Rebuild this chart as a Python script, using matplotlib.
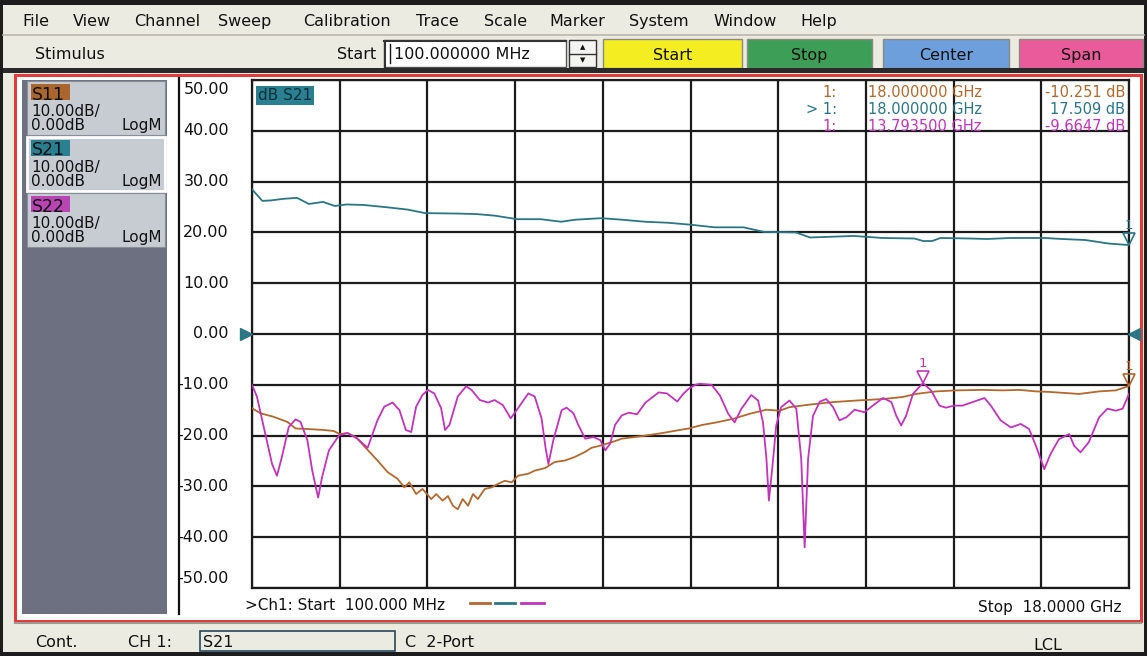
import matplotlib
matplotlib.use("Agg")
import matplotlib.pyplot as plt
import matplotlib.transforms as mtransforms
from matplotlib.patches import Rectangle
from matplotlib.lines import Line2D

plt.rcParams['font.family'] = ['DejaVu Sans']

W, H = 1147, 656

# ---- sweep / scale settings -------------------------------------------
f_start, f_stop = 0.1, 18.0          # GHz
db_top, db_bottom = 50.0, -50.0      # dB, 10 dB/div
n_div = 10

# ---- measured traces (frequency in GHz, magnitude in dB) ----------------
s11_freq = [0.10, 0.27, 0.54, 0.82, 0.99, 1.23, 1.57, 1.77, 1.89, 2.05, 2.22,
            2.42, 2.66, 2.87, 3.07, 3.21, 3.31, 3.45, 3.58, 3.76, 3.86, 3.99,
            4.10, 4.20, 4.30, 4.40, 4.51, 4.61, 4.71, 4.85, 4.99, 5.12, 5.26,
            5.40, 5.53, 5.74, 5.87, 6.08, 6.28, 6.49, 6.69, 6.90, 7.03, 7.24,
            7.44, 7.65, 8.06, 8.47, 9.01, 9.29, 9.58, 9.92, 10.26, 10.60,
            10.87, 11.07, 11.48, 11.96, 12.43, 12.98, 13.38, 13.65, 14.06,
            14.47, 15.01, 15.42, 15.76, 16.10, 16.37, 16.98, 17.39, 17.73, 18.0]
s11_db = [-14.6, -15.6, -16.3, -17.3, -18.6, -18.7, -18.9, -19.1, -19.7, -19.5,
          -20.3, -22.4, -24.9, -27.2, -28.5, -30.2, -29.2, -31.5, -30.5, -32.5,
          -31.5, -32.8, -31.9, -33.8, -34.5, -32.5, -33.8, -31.5, -32.5, -30.5,
          -30.2, -29.5, -28.9, -29.2, -27.9, -27.5, -26.9, -26.4, -25.2, -24.9,
          -24.2, -23.2, -22.4, -21.9, -21.3, -20.6, -20.1, -19.5, -18.6, -17.9,
          -17.4, -16.7, -15.7, -14.9, -15.1, -14.4, -13.9, -13.4, -13.1, -12.8,
          -12.4, -11.8, -11.3, -11.1, -11.0, -11.1, -11.0, -11.3, -11.4, -11.8,
          -11.3, -11.1, -10.251]

s21_freq = [0.10, 0.31, 0.49, 0.73, 1.02, 1.26, 1.55, 1.79, 2.03, 2.38, 2.80,
            3.27, 3.63, 4.34, 4.69, 5.05, 5.52, 5.99, 6.41, 6.70, 7.23, 7.65,
            8.12, 8.59, 9.07, 9.54, 10.13, 10.55, 11.20, 11.49, 11.79, 12.38,
            12.68, 12.97, 13.62, 13.80, 13.98, 14.15, 14.75, 15.10, 15.58,
            16.28, 16.64, 17.11, 17.59, 18.0]
s21_db = [28.5, 26.2, 26.3, 26.6, 26.8, 25.6, 26.0, 25.2, 25.5, 25.4, 25.0,
          24.5, 23.8, 23.7, 23.6, 23.3, 22.6, 22.6, 22.1, 22.5, 22.8, 22.5,
          22.1, 21.9, 21.5, 21.0, 21.0, 20.1, 20.0, 19.0, 19.1, 19.3, 19.1,
          18.9, 18.8, 18.3, 18.3, 18.9, 18.8, 18.7, 18.9, 18.9, 18.7, 18.5,
          17.8, 17.509]

s22_freq = [0.10, 0.20, 0.37, 0.51, 0.61, 0.71, 0.85, 0.99, 1.09, 1.23, 1.33,
            1.45, 1.53, 1.67, 1.88, 2.05, 2.25, 2.46, 2.66, 2.80, 2.97, 3.11,
            3.24, 3.35, 3.45, 3.58, 3.69, 3.82, 3.96, 4.04, 4.13, 4.30, 4.47,
            4.58, 4.75, 4.92, 5.05, 5.22, 5.38, 5.53, 5.74, 5.87, 6.01, 6.09,
            6.15, 6.25, 6.42, 6.52, 6.66, 6.76, 6.90, 7.07, 7.21, 7.31, 7.41,
            7.51, 7.65, 7.79, 7.96, 8.13, 8.40, 8.57, 8.78, 8.90, 9.01, 9.15,
            9.24, 9.48, 9.65, 9.82, 9.95, 10.09, 10.29, 10.43, 10.53, 10.60,
            10.65, 10.72, 10.80, 10.90, 11.07, 11.21, 11.31, 11.38, 11.45,
            11.55, 11.69, 11.82, 11.96, 12.09, 12.23, 12.40, 12.60, 12.81,
            12.98, 13.15, 13.25, 13.35, 13.45, 13.59, 13.7935, 13.96, 14.13,
            14.26, 14.43, 14.60, 14.81, 15.05, 15.18, 15.38, 15.59, 15.79,
            15.96, 16.10, 16.27, 16.40, 16.57, 16.78, 16.88, 17.01, 17.18,
            17.39, 17.56, 17.73, 17.87, 18.0]
s22_db = [-10.0, -12.3, -19.6, -25.6, -27.9, -24.2, -18.3, -16.8, -17.3, -20.9,
          -26.9, -32.2, -28.2, -22.9, -19.9, -19.5, -20.6, -22.4, -17.0, -14.3,
          -13.5, -15.0, -18.9, -19.3, -14.3, -12.0, -11.0, -11.7, -14.6, -18.9,
          -17.9, -12.3, -10.3, -11.0, -13.0, -13.5, -13.0, -14.0, -16.6, -14.6,
          -11.7, -12.3, -16.6, -22.3, -25.6, -20.9, -15.0, -14.5, -15.6, -17.9,
          -20.6, -20.3, -20.9, -22.9, -21.6, -17.9, -16.0, -15.5, -15.8, -13.5,
          -11.5, -11.7, -13.3, -11.8, -10.8, -10.0, -9.8, -10.0, -12.1, -15.7,
          -17.4, -14.7, -12.0, -13.1, -17.4, -24.6, -32.8, -26.3, -18.0, -14.4,
          -13.1, -14.7, -24.6, -42.0, -24.6, -16.1, -13.3, -12.8, -14.4, -17.0,
          -16.4, -14.9, -15.4, -13.8, -12.6, -13.4, -16.1, -18.0, -16.1, -11.8,
          -9.6647, -11.1, -14.1, -14.5, -14.1, -14.1, -13.4, -12.6, -14.1,
          -17.0, -18.4, -17.7, -18.7, -22.0, -26.6, -23.6, -20.7, -19.7, -22.0,
          -23.3, -21.3, -16.4, -14.7, -15.1, -14.7, -11.8]

# active markers (one per trace)
marker_freq = [18.0, 18.0, 13.7935]
marker_db = [-10.251, 17.509, -9.6647]
marker_prefix = ["1:", "> 1:", "1:"]
marker_freq_text = ["18.000000", "18.000000", "13.793500"]
marker_val_text = ["-10.251 dB", "17.509 dB", "-9.6647 dB"]

trace_names = ["S11", "S21", "S22"]
trace_colors = ["#b4682c", "#2a7686", "#c233bd"]
tag_colors = ["#a9662f", "#2a8090", "#b944b4"]

menu_items = ["File", "View", "Channel", "Sweep", "Calibration", "Trace",
              "Scale", "Marker", "System", "Window", "Help"]
menu_x = [22, 73, 134, 218, 303, 416, 484, 549, 629, 713, 800]

buttons = [("Start", "#f3ed22", 603, 742), ("Stop", "#3d9f57", 747, 872),
           ("Center", "#6c9fdc", 883, 1009), ("Span", "#ea5b9b", 1019, 1143)]

# ---- helpers working in screen pixels (origin top-left) ----------------
fig = plt.figure(figsize=(W / 100, H / 100), dpi=100, facecolor="#ecebe1")


def box(x0, y0, x1, y1, fc="none", ec="none", lw=0.0, z=0.5):
    fig.add_artist(Rectangle((x0 / W, 1 - y1 / H), (x1 - x0) / W, (y1 - y0) / H,
                             transform=fig.transFigure, facecolor=fc,
                             edgecolor=ec, linewidth=lw, zorder=z))


def hline(x0, x1, y, color, lw=1.0, z=0.8):
    fig.add_artist(Line2D([x0 / W, x1 / W], [1 - y / H, 1 - y / H],
                          transform=fig.transFigure, color=color, lw=lw, zorder=z))


def vline(x, y0, y1, color, lw=1.0, z=0.8):
    fig.add_artist(Line2D([x / W, x / W], [1 - y0 / H, 1 - y1 / H],
                          transform=fig.transFigure, color=color, lw=lw, zorder=z))


def txt(x, y, s, size=11.5, ha="left", va="center_baseline", color="#111111",
        z=4, **kw):
    return fig.text(x / W, 1 - y / H, s, fontsize=size, ha=ha, va=va,
                    color=color, zorder=z, **kw)


# ---- window frame, menu and stimulus bar --------------------------------
box(0, 0, W, 5, fc="#1c1c1c")
box(0, 0, 3, H, fc="#1c1c1c")
box(W - 3, 0, W, H, fc="#1c1c1c")
box(0, H - 4, W, H, fc="#1c1c1c")
hline(3, W - 3, 35, "#b9b7ab", lw=1.2)
for name, x in zip(menu_items, menu_x):
    txt(x, 20, name)

txt(35, 53, "Stimulus")
txt(337, 53, "Start")
box(384, 40, 566, 67, fc="white", ec="#555555", lw=1.0)
hline(384, 566, 41, "#333333", lw=1.5)
vline(385, 41, 67, "#333333", lw=1.5)
vline(390, 44, 63, "#111111", lw=1.0)
txt(394, 53, "100.000000 MHz", size=11.5)
box(569, 40, 596, 67, fc="#f4f4f0", ec="#333333", lw=1.0)
hline(569, 596, 53.5, "#333333", lw=1.0)
txt(582.5, 47, "▲", size=5, ha="center", va="center")
txt(582.5, 60, "▼", size=5, ha="center", va="center")
for label, col, x0, x1 in buttons:
    box(x0, 39, x1, 68, fc=col, ec="#8a8a80", lw=1.0)
    txt((x0 + x1) / 2, 54, label, ha="center")

box(3, 68, W - 3, 73, fc="#2a2a2a")

# ---- main display area --------------------------------------------------
box(15, 75, 1141, 621, fc="white", ec="#e23b3b", lw=2.2, z=0.4)
hline(15, 1141, 623, "#9a9a92", lw=1.5)

# trace setup panel
box(22, 80, 167, 614, fc="#6d7081")
panel_y = [81, 137, 193]
for i, y0 in enumerate(panel_y):
    sel = trace_names[i] == "S21"
    box(27, y0, 165, y0 + 54, fc="#c6ccd2",
        ec="white" if sel else "#8a8e98", lw=2.0 if sel else 0.8, z=0.6)
    box(31, y0 + 3, 70, y0 + 19, fc=tag_colors[i], z=0.7)
    txt(32, y0 + 11.5, trace_names[i], size=12.5, color="#101010")
    txt(31, y0 + 29, "10.00dB/", size=11)
    txt(31, y0 + 43, "0.00dB", size=11)
    txt(162, y0 + 43, "LogM", size=11, ha="right")

vline(179, 78, 614, "#111111", lw=1.6)

# ---- measurement grid ---------------------------------------------------
ax_l, ax_r, ax_t, ax_b = 252, 1129, 80, 588
ax = fig.add_axes([ax_l / W, 1 - ax_b / H, (ax_r - ax_l) / W, (ax_b - ax_t) / H],
                  zorder=2)
ax.set_facecolor("white")
ax.set_xlim(f_start, f_stop)
ax.set_ylim(db_bottom, db_top)
step_f = (f_stop - f_start) / n_div
ax.set_xticks([f_start + i * step_f for i in range(n_div + 1)])
db_ticks = [db_bottom + i * (db_top - db_bottom) / n_div for i in range(n_div + 1)]
ax.set_yticks(db_ticks)
ax.tick_params(length=0, labelbottom=False, labelleft=False)
ax.grid(True, color="#1b1b1b", lw=1.6)
for sp in ax.spines.values():
    sp.set_color("#1b1b1b")
    sp.set_linewidth(1.6)

traces = [(s11_freq, s11_db), (s21_freq, s21_db), (s22_freq, s22_db)]
for (fq, db), col in zip(traces, trace_colors):
    ax.plot(fq, db, color=col, lw=1.3, zorder=3)

# scale labels to the left of the grid
ylab = mtransforms.blended_transform_factory(fig.transFigure, ax.transData)
for v in db_ticks:
    va = "top" if v == db_top else ("bottom" if v == db_bottom else "center")
    dy = -2 if v == db_top else (2 if v == db_bottom else 0)
    ax.annotate(f"{v:.2f}", xy=(229 / W, v), xycoords=ylab,
                xytext=(0, dy), textcoords="offset pixels", ha="right", va=va,
                fontsize=11.5, color="#111111", annotation_clip=False)


def shifted(dx, dy):
    return mtransforms.offset_copy(ax.transData, fig=fig, x=dx, y=dy, units="dots")


# reference level arrows at 0 dB
ax.plot([f_start], [0], marker=">", ms=8, color="#2a7686", clip_on=False,
        transform=shifted(-6, 0), zorder=5)
ax.plot([f_stop], [0], marker="<", ms=8, color="#2a7686", clip_on=False,
        transform=shifted(5, 0), zorder=5)

# marker symbols with their numbers
for fq, db, col in zip(marker_freq, marker_db, trace_colors):
    ax.plot([fq], [db], marker="v", ms=8, mfc="none", mec=col, mew=1.2,
            clip_on=False, transform=shifted(0, 6), zorder=5)
    ax.annotate("1", xy=(fq, db), xytext=(0, 13), textcoords="offset pixels",
                ha="center", va="bottom", fontsize=9.5, color=col,
                annotation_clip=False, zorder=5)

# active trace title
txt(258, 94, "dB S21", size=11, color="#0d2f3a",
    bbox=dict(boxstyle="square,pad=0.12", fc="#2a8090", ec="none"))

# marker readout table
row_y = [91, 108, 125]
for i in range(3):
    c = trace_colors[i]
    txt(837, row_y[i], marker_prefix[i], size=10.5, ha="right", color=c)
    txt(868, row_y[i], marker_freq_text[i] + " GHz", size=10.5, color=c)
    txt(1125, row_y[i], marker_val_text[i], size=10.5, ha="right", color=c)

# channel sweep summary under the grid
txt(245, 604, ">Ch1: Start  100.000 MHz", size=11)
for (x0, x1), col in zip([(470, 490), (495, 515), (521, 544)], trace_colors):
    hline(x0, x1, 603, col, lw=2.0, z=4)
txt(1122, 606, "Stop  18.0000 GHz", size=11, ha="right")

# ---- status bar ---------------------------------------------------------
txt(35, 641, "Cont.")
txt(128, 641, "CH 1:")
box(200, 631, 395, 651, fc="#ecebe1", ec="#24485c", lw=1.2)
txt(203, 641, "S21")
txt(405, 641, "C  2-Port")
txt(1033, 644, "LCL")

fig.savefig("out.png", dpi=100, facecolor=fig.get_facecolor())
